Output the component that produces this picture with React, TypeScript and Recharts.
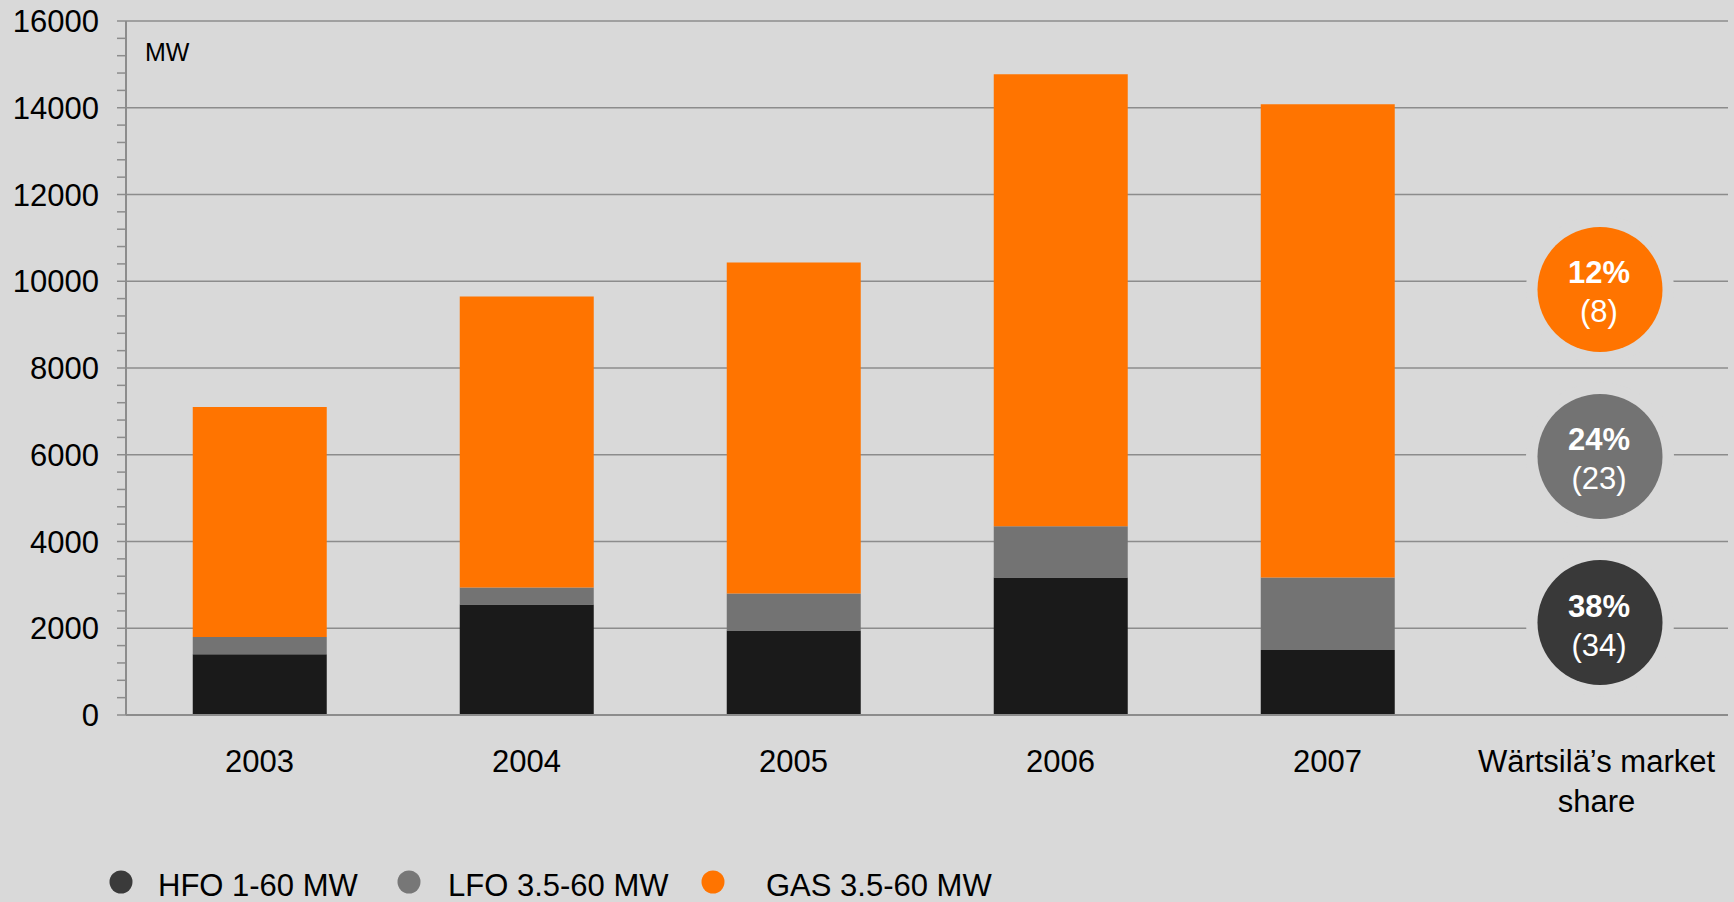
import React from 'react';
import {
  BarChart,
  Bar,
  XAxis,
  YAxis,
  CartesianGrid,
  ReferenceDot,
  Legend,
  Label,
} from 'recharts';

// ---------- data ----------
const years = ['2003', '2004', '2005', '2006', '2007'];
const shareCategory = 'Wärtsilä’s market share';
const hfoValues = [1400, 2550, 1950, 3170, 1500];
const lfoValues = [400, 390, 850, 1180, 1670];
const gasValues = [5300, 6710, 7630, 10420, 10910];
const seriesKeys = ['hfo', 'lfo', 'gas'];
const seriesNames = ['HFO 1-60 MW', 'LFO 3.5-60 MW', 'GAS 3.5-60 MW'];
const sharePercents = ['38%', '24%', '12%'];
const shareCounts = ['(34)', '(23)', '(8)'];
const yMajorTicks = [0, 2000, 4000, 6000, 8000, 10000, 12000, 14000, 16000];
const yMinorStep = 400;
const yUnit = 'MW';

// ---------- styles ----------
const FONT = '"Liberation Sans", Arial, Helvetica, sans-serif';
const BG = '#d9d9d9';
const GRID = '#8c8c8c';
const barColors = ['#1a1a1a', '#737373', '#ff7400'];
const legendColors = ['#3a3a3a', '#777777', '#ff7400'];
const shareColors = ['#393939', '#737373', '#ff7400'];
const shareYPositions = [2130, 5960, 9810];
const legendDotX = [121, 409, 713];
const legendTextX = [158, 448, 766];

const chartData = [
  ...years.map((year, i) => ({
    year,
    hfo: hfoValues[i],
    lfo: lfoValues[i],
    gas: gasValues[i],
  })),
  { year: shareCategory },
];

const yAllTicks: number[] = [];
for (let i = 0; i < yMajorTicks.length - 1; i++) {
  for (let v = yMajorTicks[i]; v < yMajorTicks[i + 1]; v += yMinorStep) yAllTicks.push(v);
}
yAllTicks.push(yMajorTicks[yMajorTicks.length - 1]);

let measureCtx: CanvasRenderingContext2D | null = null;
const measure = (s: string) => {
  if (!measureCtx) {
    const c = document.createElement('canvas');
    measureCtx = c.getContext('2d');
  }
  if (!measureCtx) return s.length * 16;
  measureCtx.font = `31px ${FONT}`;
  return measureCtx.measureText(s).width;
};

const wrapLabel = (label: string, maxWidth: number) => {
  const words = String(label).split(' ');
  const lines: string[] = [];
  let cur = '';
  words.forEach((w) => {
    const trial = cur ? `${cur} ${w}` : w;
    if (cur && measure(trial) > maxWidth) {
      lines.push(cur);
      cur = w;
    } else {
      cur = trial;
    }
  });
  if (cur) lines.push(cur);
  return lines;
};

const YTick = (props: any) => {
  const { x, y, payload } = props;
  if (!yMajorTicks.includes(payload.value)) return <g />;
  return (
    <text x={x} y={y} dy="0.355em" textAnchor="end" fontSize={31} fontFamily={FONT} fill="#000">
      {payload.value}
    </text>
  );
};

const XTick = (props: any) => {
  const { x, y, payload } = props;
  const lines = wrapLabel(payload.value, 262);
  const tx = lines.length > 1 ? x + 2 : x;
  return (
    <text x={tx} y={y + 57} textAnchor="middle" fontSize={31} fontFamily={FONT} fill="#000">
      {lines.map((ln, i) => (
        <tspan key={i} x={tx} dy={i === 0 ? 0 : 40}>
          {ln}
        </tspan>
      ))}
    </text>
  );
};

const makeShareShape = (i: number) => (props: any) => {
  const { cy } = props;
  const cx = props.cx + 5.5;
  return (
    <g>
      <circle cx={cx} cy={cy} r={74} fill={BG} />
      <circle cx={cx} cy={cy} r={62.5} fill={shareColors[i]} />
      <text x={cx - 1} y={cy - 6} textAnchor="middle" fontSize={31} fontWeight="bold" fontFamily={FONT} fill="#fff">
        {sharePercents[i]}
      </text>
      <text x={cx - 1} y={cy + 33} textAnchor="middle" fontSize={31} fontFamily={FONT} fill="#fff">
        {shareCounts[i]}
      </text>
    </g>
  );
};

const renderLegend = () => (
  <svg width={1734} height={40} style={{ display: 'block' }}>
    {seriesNames.map((name, i) => (
      <g key={name}>
        <circle cx={legendDotX[i]} cy={20} r={11.5} fill={legendColors[i]} />
        <text x={legendTextX[i]} y={34} fontSize={31} fontFamily={FONT} fill="#000">
          {name}
        </text>
      </g>
    ))}
  </svg>
);

export default function App() {
  return (
    <div
      style={{
        position: 'absolute',
        left: 0,
        top: 0,
        width: 1734,
        height: 902,
        background: BG,
        overflow: 'hidden',
      }}
    >
      <BarChart
        width={1734}
        height={902}
        data={chartData}
        margin={{ top: 21, right: 6, bottom: 87, left: 0 }}
        barCategoryGap="25%"
      >
        <CartesianGrid
          vertical={false}
          stroke={GRID}
          strokeWidth={1.5}
          horizontalCoordinatesGenerator={(p: any) => {
            const sc = p?.yAxis?.scale;
            return yMajorTicks
              .filter((v) => v > 0)
              .map((v) =>
                typeof sc === 'function'
                  ? sc(v)
                  : p.offset.top + p.offset.height * (1 - v / yMajorTicks[yMajorTicks.length - 1])
              );
          }}
        />
        <XAxis
          dataKey="year"
          interval={0}
          height={100}
          tickLine={false}
          tickSize={0}
          tickMargin={0}
          axisLine={{ stroke: GRID, strokeWidth: 2 }}
          tick={<XTick />}
        />
        <YAxis
          type="number"
          domain={[0, yMajorTicks[yMajorTicks.length - 1]]}
          ticks={yAllTicks}
          interval={0}
          width={126}
          tickSize={9}
          tickMargin={18}
          axisLine={{ stroke: GRID, strokeWidth: 2 }}
          tickLine={{ stroke: GRID, strokeWidth: 1.5 }}
          tick={<YTick />}
        >
          <Label
            content={(p: any) => {
              const vb = p.viewBox || { x: 0, y: 21, width: 126 };
              return (
                <text x={vb.x + vb.width + 19} y={vb.y + 40} fontSize={25} fontFamily={FONT} fill="#000">
                  {yUnit}
                </text>
              );
            }}
          />
        </YAxis>
        {seriesKeys.map((k, i) => (
          <Bar
            key={k}
            dataKey={k}
            name={seriesNames[i]}
            stackId="mw"
            fill={barColors[i]}
            isAnimationActive={false}
          />
        ))}
        {sharePercents.map((p, i) => (
          <ReferenceDot
            key={p}
            x={shareCategory}
            y={shareYPositions[i]}
            r={62}
            shape={makeShareShape(i)}
          />
        ))}
        <Legend
          layout="horizontal"
          verticalAlign="middle"
          align="center"
          wrapperStyle={{ position: 'absolute', left: 0, top: 862, width: 1734, height: 40, margin: 0, padding: 0 }}
          content={renderLegend}
        />
      </BarChart>
    </div>
  );
}
